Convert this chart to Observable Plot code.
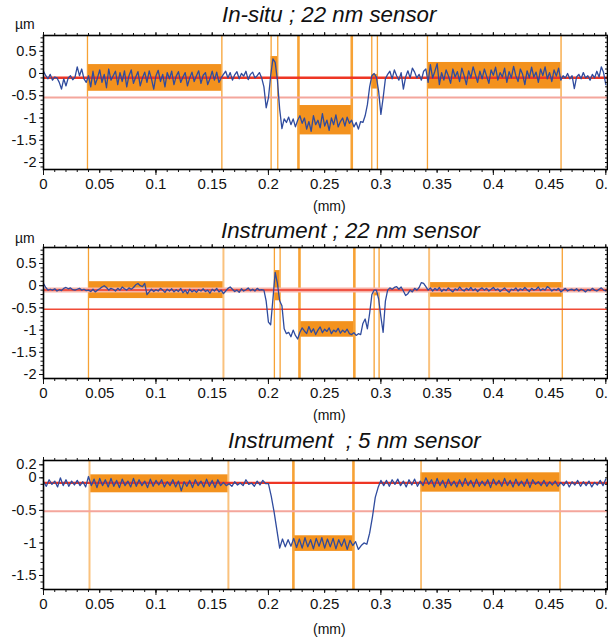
<!DOCTYPE html>
<html><head><meta charset="utf-8">
<script src="https://cdn.jsdelivr.net/npm/d3@7"></script>
<script src="https://cdn.jsdelivr.net/npm/@observablehq/plot@0.6"></script>
<style>
body{margin:0;background:#fff;font-family:"Liberation Sans",Arial,sans-serif;}
#wrap{position:relative;width:608px;height:640px;overflow:hidden;background:#fff;}
.title{position:absolute;font-style:italic;font-size:22.3px;line-height:22px;white-space:pre;color:#111;}
.unit{position:absolute;font-size:14px;line-height:14px;color:#111;}
.xl{position:absolute;font-size:14px;line-height:14px;color:#111;}
.panel{position:absolute;left:0;}
</style></head><body><div id="wrap"></div>
<script>
// ---------- text ----------
const titles = ["In-situ ; 22 nm sensor", "Instrument ; 22 nm sensor", "Instrument  ; 5 nm sensor"];
const xAxisLabel = "(mm)";
const yUnit = "µm";
const xTicks = [0, 0.05, 0.1, 0.15, 0.2, 0.25, 0.3, 0.35, 0.4, 0.45, 0.5];
const xTickLabels = ["0", "0.05", "0.1", "0.15", "0.2", "0.25", "0.3", "0.35", "0.4", "0.45", "0.5"];
const yTicksA = [0.5, 0, -0.5, -1, -1.5, -2];
const yTickLabelsA = ["0.5", "0", "-0.5", "-1", "-1.5", "-2"];
const yTicksB = [0.2, 0, -0.5, -1, -1.5];
const yTickLabelsB = ["0.2", "0", "-0.5", "-1", "-1.5"];

// ---------- panel 1 : In-situ, 22 nm ----------
const p1Step = 0.002;
const p1Profile = [
 0.05,-0.05,-0.12,-0.02,-0.15,-0.08,-0.1,-0.2,-0.35,-0.12,-0.28,-0.1,-0.05,-0.14,-0.08,0.15,-0.05,0.1,-0.12,-0.2,
 -0.05,-0.3,0.05,-0.25,-0.1,0.08,-0.2,-0.02,-0.32,0.1,
 -0.15,-0.05,0.05,-0.25,0.02,-0.18,0.06,-0.3,-0.05,0.08,
 -0.22,-0.08,0.04,-0.28,-0.1,0.03,-0.2,0.06,-0.12,-0.35,
 -0.05,0.07,-0.18,-0.02,-0.3,0.02,-0.12,0.05,-0.25,-0.06,
 0.04,-0.2,-0.08,0.02,-0.28,-0.1,0.03,-0.18,-0.05,0.06,
 -0.22,-0.04,0.02,-0.25,-0.12,0.05,-0.15,0.03,-0.2,-0.1,
 -0.02,0.05,-0.1,0.02,-0.15,-0.03,0.04,-0.12,0.0,-0.06,0.05,-0.14,-0.02,0.03,-0.1,-0.05,0.02,
 -0.1,-0.3,-0.77,-0.55,-0.05,0.33,0.25,-0.15,-0.8,-1.24,-1.02,
 -1.1,-0.98,-1.15,-1.02,-1.2,-1.05,-0.95,-1.12,-1.0,-1.25,
 -1.08,-1.3,-0.95,-1.15,-1.05,-1.22,-0.9,-1.18,-1.05,-1.28,
 -1.0,-1.15,-0.93,-1.2,-1.08,-1.0,-1.18,-0.98,-1.12,-1.05,
 -1.2,-1.1,-1.25,-1.08,
 -1.1,-0.95,-0.7,-0.3,-0.05,0.0,-0.08,-0.4,-0.92,-0.55,-0.12,-0.02,
 0.05,-0.12,0.08,-0.05,-0.15,0.02,-0.35,-0.08,0.06,-0.1,0.12,0.03,-0.1,-0.02,-0.15,0.05,
 0.1,-0.2,0.2,-0.1,0.05,0.22,-0.25,0.02,-0.15,0.08,
 -0.05,-0.22,0.1,-0.08,0.04,-0.18,0.12,-0.05,-0.25,0.06,
 -0.1,0.15,-0.02,-0.2,0.05,-0.12,0.1,-0.06,-0.22,0.08,
 -0.04,0.14,-0.15,0.02,-0.08,0.12,-0.2,0.04,-0.1,0.16,
 -0.05,-0.18,0.1,-0.02,-0.25,0.06,-0.1,0.14,-0.08,0.03,
 -0.2,0.1,-0.05,0.15,-0.12,0.02,-0.18,0.08,-0.06,0.12,
 -0.15,-0.05,-0.1,0.0,-0.12,-0.05,-0.34,-0.08,-0.02,-0.12,0.02,-0.1,-0.05,-0.15,-0.02,-0.1,0.05,-0.08,0.15,0.02,-0.25
];
const p1Cursors = [0.0391, 0.1586, 0.2024, 0.2083, 0.2267, 0.2741, 0.2919, 0.2969, 0.3414, 0.4602];
const p1Windows = [
 {x1: 0.0391, x2: 0.1586, y1: 0.2, y2: -0.4},
 {x1: 0.2024, x2: 0.2083, y1: 0.38, y2: -0.1},
 {x1: 0.2267, x2: 0.2741, y1: -0.72, y2: -1.38},
 {x1: 0.2919, x2: 0.2969, y1: -0.02, y2: -0.35},
 {x1: 0.3414, x2: 0.4602, y1: 0.247, y2: -0.35}
];
const p1Levels = [-0.095, -0.54];

// ---------- panel 2 : Instrument, 22 nm ----------
const p2Step = 0.002;
const p2Profile = [
 0.05,-0.04,-0.1,-0.08,-0.1,-0.07,-0.12,-0.09,-0.11,-0.06,-0.04,-0.07,-0.05,-0.09,-0.1,-0.08,-0.06,-0.1,-0.08,-0.11,
 -0.1,-0.13,-0.08,-0.14,-0.1,-0.07,-0.03,0.0,-0.04,-0.1,-0.06,-0.08,-0.12,-0.06,-0.1,-0.03,-0.07,-0.1,-0.05,-0.08,
 -0.04,0.02,0.05,0.0,-0.02,0.05,-0.2,-0.14,-0.08,-0.13,-0.09,-0.12,-0.06,-0.1,-0.15,-0.08,-0.12,-0.07,-0.14,-0.09,
 -0.13,-0.06,-0.16,-0.1,-0.18,-0.08,-0.14,-0.1,-0.15,-0.09,-0.12,-0.07,-0.13,-0.1,-0.17,-0.08,-0.12,-0.06,-0.14,-0.1,
 -0.18,-0.12,-0.06,-0.03,-0.08,-0.13,-0.1,-0.15,-0.07,-0.12,-0.09,-0.05,-0.11,-0.08,-0.12,-0.06,-0.1,-0.09,
 -0.1,-0.35,-0.82,-0.88,-0.3,0.3,0.05,-0.34,-0.45,-0.97,-1.08,
 -1.05,-1.15,-1.0,-1.12,-1.2,-1.05,-0.95,-1.02,-1.08,-0.92,
 -1.05,-0.97,-1.1,-1.0,-0.93,-1.06,-0.98,-1.03,-0.95,-1.08,
 -1.0,-1.04,-0.96,-1.07,-1.0,-1.05,-0.98,-1.08,-1.1,-1.06,
 -1.12,-1.08,-1.1,
 -0.85,-0.75,-0.97,-0.62,-0.2,-0.1,-0.1,-0.3,-0.7,-1.05,-0.35,-0.1,-0.05,-0.08,
 -0.04,-0.02,-0.08,-0.03,-0.12,-0.22,-0.18,-0.1,-0.14,-0.06,-0.1,-0.04,0.07,0.05,
 -0.02,-0.1,-0.05,-0.12,-0.06,-0.1,-0.04,-0.13,-0.08,-0.11,-0.05,-0.1,-0.14,-0.07,-0.1,-0.03,-0.09,-0.12,-0.06,-0.1,
 -0.04,-0.11,-0.07,-0.13,-0.08,-0.05,-0.1,-0.06,-0.12,-0.08,-0.04,-0.1,-0.07,-0.13,-0.09,-0.05,-0.11,-0.15,-0.08,-0.1,
 -0.05,-0.12,-0.07,-0.1,-0.04,-0.09,-0.13,-0.06,-0.1,-0.08,-0.03,-0.11,-0.07,-0.1,-0.02,-0.06,-0.12,-0.08,-0.1,-0.06,
 -0.14,-0.1,-0.06,-0.12,-0.09,-0.08,-0.11,-0.07,-0.12,-0.08,-0.1,-0.14,-0.09,-0.11,-0.06,-0.1,-0.12,-0.08,-0.05,-0.1,-0.12
];
const p2Cursors = [0.04, 0.16, 0.2053, 0.2104, 0.2276, 0.2764, 0.294, 0.2984, 0.3429, 0.4613];
const p2Windows = [
 {x1: 0.04, x2: 0.16, y1: 0.09, y2: -0.29},
 {x1: 0.2053, x2: 0.2104, y1: 0.34, y2: -0.34},
 {x1: 0.2276, x2: 0.2764, y1: -0.81, y2: -1.16},
 {x1: 0.294, x2: 0.2984, y1: -0.1, y2: -0.23},
 {x1: 0.3429, x2: 0.4613, y1: 0.07, y2: -0.26}
];
const p2Levels = [-0.097, -0.53];

// ---------- panel 3 : Instrument, 5 nm ----------
const p3Step = 0.0025;
const p3Profile = [
 -0.06,-0.13,-0.03,-0.1,-0.05,-0.14,0.0,-0.12,-0.03,-0.13,-0.05,-0.11,-0.04,-0.12,-0.06,-0.14,0.02,-0.12,-0.02,-0.15,
 -0.01,-0.12,-0.03,-0.14,-0.01,-0.13,-0.04,-0.15,-0.02,-0.12,-0.05,-0.14,-0.01,-0.13,-0.03,-0.12,-0.05,-0.15,-0.02,-0.13,
 -0.04,-0.11,-0.03,-0.14,-0.06,-0.12,-0.03,-0.14,-0.05,-0.2,-0.06,-0.13,-0.04,-0.15,-0.03,-0.12,-0.05,-0.14,-0.02,-0.13,
 -0.04,-0.15,-0.03,-0.12,-0.07,-0.12,-0.09,-0.13,-0.06,-0.11,-0.08,-0.12,-0.03,-0.1,-0.08,-0.13,-0.05,-0.11,-0.04,-0.09,
 -0.09,-0.28,-0.52,-0.8,-1.08,-0.94,-1.06,-0.95,-1.05,
 -0.93,-1.07,-0.94,-1.08,-0.92,-1.06,-0.95,-1.09,-0.93,-1.05,-0.92,-1.08,-0.94,-1.06,-0.93,-1.09,-0.95,-1.05,-0.94,-1.1,-0.96,-1.04,-0.98,-1.1,
 -1.04,-1.0,-1.02,-0.85,-0.6,-0.3,-0.15,-0.04,
 -0.12,-0.04,-0.13,-0.03,-0.1,-0.02,-0.12,-0.05,-0.14,-0.03,
 -0.11,-0.02,-0.13,-0.05,-0.12,0.0,-0.1,-0.03,-0.14,-0.01,
 -0.12,-0.04,-0.15,-0.02,-0.12,-0.05,-0.14,-0.03,-0.13,-0.01,
 -0.12,-0.04,-0.14,-0.02,-0.13,-0.05,-0.12,-0.03,-0.15,-0.02,
 -0.11,-0.04,-0.13,-0.01,-0.12,-0.04,-0.14,-0.02,-0.12,-0.05,
 -0.13,-0.02,-0.15,-0.03,-0.1,-0.06,-0.12,-0.04,-0.13,-0.06,
 -0.11,-0.05,-0.13,-0.07,-0.12,-0.05,-0.14,-0.06,-0.11,-0.04,
 -0.13,-0.06,-0.12,-0.05,-0.14,-0.07,-0.11,-0.04,-0.12,-0.02
];
const p3Cursors = [0.0409, 0.1644, 0.2222, 0.2756, 0.3357, 0.4593];
const p3Windows = [
 {x1: 0.0409, x2: 0.1644, y1: 0.046, y2: -0.23},
 {x1: 0.2222, x2: 0.2756, y1: -0.89, y2: -1.13},
 {x1: 0.3357, x2: 0.4593, y1: 0.077, y2: -0.22}
];
const p3Levels = [-0.077, -0.513];

// ---------- drawing ----------
const ORANGE = "#F3921E", CURSOR = "#F7A235", CURSOR_LIGHT = "#FAC27E", BLUE = "#2F4B9E";
const fmt = (ticks, labels) => d => labels[ticks.indexOf(d)] ?? "";

function panel(cfg) {
  const pts = cfg.profile.map((v, i) => ({x: i * cfg.step, y: v}));
  const [y0, y1] = cfg.yDomain;
  const minorY = d3.range(Math.ceil(y0 * 10), Math.floor(y1 * 10) + 1).map(i => i / 10);
  const minorX = d3.range(0, 51).map(i => i / 100);
  const majorX = d3.range(0, 6).map(i => i / 10);
  const cursorData = cfg.cursors.map((x, i) => ({x, w: cfg.thick.includes(i) ? 2.6 : 1.3, c: cfg.light.includes(i) ? CURSOR_LIGHT : CURSOR}));
  return Plot.plot({
    width: 608, height: cfg.height,
    marginLeft: 43, marginRight: 1, marginTop: 7, marginBottom: cfg.height - 7 - cfg.inner,
    x: {domain: [0, 0.5015]},
    y: {domain: cfg.yDomain},
    style: {background: "transparent", overflow: "visible", fontFamily: "'Liberation Sans', Arial, sans-serif", fontSize: "15px", color: "#111"},
    marks: [
      Plot.rect(cfg.windows, {x1: "x1", x2: "x2", y1: "y1", y2: "y2", fill: ORANGE}),
      Plot.ruleX(cursorData.filter(d => d.c === CURSOR_LIGHT), {x: "x", stroke: CURSOR_LIGHT, strokeWidth: 2}),
      Plot.ruleX(cursorData.filter(d => d.c === CURSOR && d.w < 2), {x: "x", stroke: CURSOR, strokeWidth: 1.3}),
      Plot.ruleX(cursorData.filter(d => d.w > 2), {x: "x", stroke: CURSOR, strokeWidth: 2.6}),
      ...cfg.levelMarks(cfg.levels),
      Plot.line(pts, {x: "x", y: "y", stroke: BLUE, strokeWidth: 1.3}),
      Plot.axisX({anchor: "bottom", ticks: minorX, tickSize: 3, fill: "none", label: null}),
      Plot.axisX({anchor: "bottom", ticks: majorX, tickSize: 6, fill: "none", label: null}),
      Plot.axisX({anchor: "bottom", ticks: xTicks, tickSize: 4, tickPadding: 5, fontSize: 15, tickFormat: fmt(xTicks, xTickLabels), label: null}),
      Plot.axisX({anchor: "top", ticks: minorX, tickSize: 3, fill: "none", label: null}),
      Plot.axisX({anchor: "top", ticks: xTicks, tickSize: 4, fill: "none", label: null}),
      Plot.axisY({anchor: "left", ticks: minorY, tickSize: 2.5, fill: "none", label: null}),
      Plot.axisY({anchor: "left", ticks: cfg.yTicks, tickSize: 4, tickPadding: 3, fontSize: 14.5, tickFormat: fmt(cfg.yTicks, cfg.yLabels), label: null}),
      Plot.axisY({anchor: "right", ticks: minorY, tickSize: -3, fill: "none", label: null}),
      Plot.frame({stroke: "#000", strokeWidth: 1.6})
    ]
  });
}

const levelsRedLight = ([a, b]) => [
  Plot.ruleY([b], {stroke: "#F4A69C", strokeWidth: 2}),
  Plot.ruleY([a], {stroke: "#EE3524", strokeWidth: 2.4})
];
const levelsBand = ([a, b]) => [
  Plot.ruleY([b], {stroke: "#F04A36", strokeWidth: 1.5}),
  Plot.ruleY([a], {stroke: "#F7B3A8", strokeWidth: 5}),
  Plot.ruleY([a], {stroke: "#EE3524", strokeWidth: 1.5})
];

const wrap = document.getElementById("wrap");
function place(el, top) { el.classList.add("panel"); el.style.top = top + "px"; wrap.appendChild(el); }
function addText(cls, text, left, top) {
  const d = document.createElement("div"); d.className = cls; d.textContent = text;
  d.style.left = left + "px"; d.style.top = top + "px"; wrap.appendChild(d); return d;
}

place(panel({profile: p1Profile, step: p1Step, windows: p1Windows, cursors: p1Cursors, thick: [4, 5], light: [],
  levels: p1Levels, levelMarks: levelsRedLight, yDomain: [-2.157, 0.853], yTicks: yTicksA, yLabels: yTickLabelsA,
  height: 163, inner: 134}), 28);
place(panel({profile: p2Profile, step: p2Step, windows: p2Windows, cursors: p2Cursors, thick: [4, 5], light: [1, 8],
  levels: p2Levels, levelMarks: levelsBand, yDomain: [-2.09, 0.86], yTicks: yTicksA, yLabels: yTickLabelsA,
  height: 160, inner: 131}), 240);
place(panel({profile: p3Profile, step: p3Step, windows: p3Windows, cursors: p3Cursors, thick: [2, 3], light: [0, 1],
  levels: p3Levels, levelMarks: levelsRedLight, yDomain: [-1.715, 0.266], yTicks: yTicksB, yLabels: yTickLabelsB,
  height: 158, inner: 129}), 453);

addText("title", titles[0], 222, 4);
addText("title", titles[1], 221, 220);
addText("title", titles[2], 228, 430);
addText("unit", yUnit, 15, 17);
addText("unit", yUnit, 15, 231);
addText("xl", xAxisLabel, 313, 199);
addText("xl", xAxisLabel, 313, 408);
addText("xl", xAxisLabel, 313, 622);
</script></body></html>
